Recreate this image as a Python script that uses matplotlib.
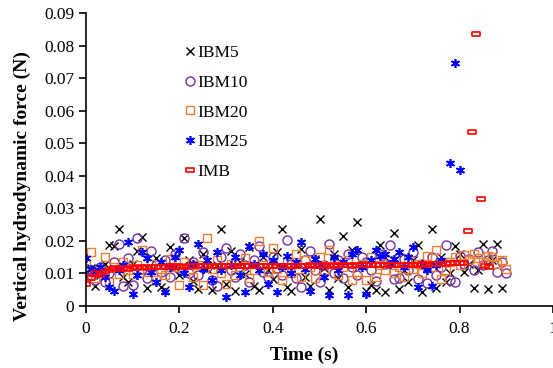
import matplotlib
matplotlib.use("Agg")
import matplotlib.pyplot as plt
from matplotlib.path import Path
import numpy as np

plt.rcParams['font.family'] = ['Liberation Serif', 'DejaVu Serif']

# time stamps (s)
t_ibm5 = [0.00, 0.01, 0.02, 0.03, 0.04, 0.05, 0.06, 0.07, 0.08, 0.09,
          0.10, 0.11, 0.12, 0.13, 0.14, 0.15, 0.16, 0.17, 0.18, 0.19,
          0.20, 0.21, 0.22, 0.23, 0.24, 0.25, 0.26, 0.27, 0.28, 0.29,
          0.30, 0.31, 0.32, 0.33, 0.34, 0.35, 0.36, 0.37, 0.38, 0.39,
          0.40, 0.41, 0.42, 0.43, 0.44, 0.45, 0.46, 0.47, 0.48, 0.49,
          0.50, 0.51, 0.52, 0.53, 0.54, 0.55, 0.56, 0.57, 0.58, 0.59,
          0.60, 0.61, 0.62, 0.63, 0.64, 0.65, 0.66, 0.67, 0.68, 0.69,
          0.70, 0.71, 0.72, 0.73, 0.74, 0.75, 0.76, 0.77, 0.78, 0.79,
          0.80, 0.81, 0.82, 0.83, 0.84, 0.85, 0.86, 0.87, 0.88, 0.89]
f_ibm5 = [0.0105, 0.0117, 0.0060, 0.0095, 0.0128, 0.0187, 0.0185, 0.0236, 0.0090, 0.0075,
          0.0130, 0.0169, 0.0213, 0.0055, 0.0110, 0.0147, 0.0059, 0.0049, 0.0182, 0.0120,
          0.0095, 0.0210, 0.0140, 0.0078, 0.0052, 0.0160, 0.0115, 0.0050, 0.0125, 0.0236,
          0.0068, 0.0170, 0.0045, 0.0135, 0.0098, 0.0180, 0.0060, 0.0048, 0.0150, 0.0112,
          0.0082, 0.0165, 0.0236, 0.0058, 0.0047, 0.0130, 0.0175, 0.0090, 0.0062, 0.0145,
          0.0267, 0.0118, 0.0049, 0.0160, 0.0085, 0.0216, 0.0058, 0.0172, 0.0257, 0.0128,
          0.0045, 0.0064, 0.0050, 0.0187, 0.0044, 0.0135, 0.0223, 0.0051, 0.0110, 0.0075,
          0.0140, 0.0187, 0.0044, 0.0120, 0.0238, 0.0054, 0.0150, 0.0075, 0.0100, 0.0184,
          0.0160, 0.0105, 0.0130, 0.0054, 0.0112, 0.0190, 0.0051, 0.0140, 0.0190, 0.0054]

t_ibm10 = t_ibm5 + [0.90]
f_ibm10 = [0.0110, 0.0095, 0.0080, 0.0120, 0.0075, 0.0100, 0.0135, 0.0190, 0.0062, 0.0148,
           0.0064, 0.0209, 0.0115, 0.0085, 0.0170, 0.0125, 0.0105, 0.0140, 0.0090, 0.0160,
           0.0118, 0.0208, 0.0100, 0.0135, 0.0095, 0.0165, 0.0120, 0.0080, 0.0062, 0.0150,
           0.0179, 0.0110, 0.0090, 0.0160, 0.0125, 0.0075, 0.0140, 0.0185, 0.0105, 0.0090,
           0.0150, 0.0118, 0.0095, 0.0203, 0.0130, 0.0085, 0.0059, 0.0140, 0.0170, 0.0110,
           0.0075, 0.0125, 0.0190, 0.0100, 0.0140, 0.0085, 0.0160, 0.0120, 0.0095, 0.0150,
           0.0135, 0.0110, 0.0078, 0.0160, 0.0128, 0.0187, 0.0082, 0.0085, 0.0145, 0.0110,
           0.0165, 0.0082, 0.0130, 0.0070, 0.0150, 0.0095, 0.0120, 0.0187, 0.0080, 0.0075,
           0.0155, 0.0130, 0.0145, 0.0110, 0.0167, 0.0125, 0.0140, 0.0170, 0.0105, 0.0135,
           0.0102]

t_ibm20 = t_ibm5 + [0.90]
f_ibm20 = [0.0130, 0.0167, 0.0085, 0.0110, 0.0150, 0.0075, 0.0120, 0.0098, 0.0135, 0.0110,
           0.0097, 0.0125, 0.0172, 0.0105, 0.0130, 0.0080, 0.0115, 0.0095, 0.0144, 0.0120,
           0.0064, 0.0135, 0.0110, 0.0090, 0.0125, 0.0064, 0.0208, 0.0115, 0.0140, 0.0100,
           0.0067, 0.0130, 0.0095, 0.0120, 0.0148, 0.0085, 0.0110, 0.0200, 0.0125, 0.0105,
           0.0179, 0.0115, 0.0080, 0.0135, 0.0100, 0.0160, 0.0090, 0.0140, 0.0120, 0.0085,
           0.0150, 0.0110, 0.0172, 0.0130, 0.0095, 0.0120, 0.0140, 0.0080, 0.0105, 0.0130,
           0.0080, 0.0150, 0.0090, 0.0125, 0.0110, 0.0140, 0.0100, 0.0120, 0.0090, 0.0145,
           0.0115, 0.0130, 0.0100, 0.0155, 0.0120, 0.0172, 0.0083, 0.0110, 0.0135, 0.0150,
           0.0125, 0.0157, 0.0140, 0.0160, 0.0148, 0.0135, 0.0155, 0.0151, 0.0130, 0.0141,
           0.0113]

t_ibm25 = t_ibm5[:77] + [0.78, 0.79, 0.80]
f_ibm25 = [0.0148, 0.0115, 0.0105, 0.0120, 0.0090, 0.0059, 0.0046, 0.0110, 0.0125, 0.0197,
           0.0036, 0.0095, 0.0165, 0.0146, 0.0105, 0.0075, 0.0136, 0.0042, 0.0120, 0.0150,
           0.0172, 0.0100, 0.0059, 0.0130, 0.0190, 0.0115, 0.0140, 0.0080, 0.0167, 0.0110,
           0.0029, 0.0125, 0.0150, 0.0095, 0.0042, 0.0185, 0.0130, 0.0110, 0.0160, 0.0068,
           0.0140, 0.0044, 0.0120, 0.0155, 0.0100, 0.0135, 0.0196, 0.0115, 0.0046, 0.0145,
           0.0125, 0.0090, 0.0034, 0.0150, 0.0110, 0.0135, 0.0034, 0.0160, 0.0172, 0.0120,
           0.0036, 0.0140, 0.0172, 0.0155, 0.0160, 0.0130, 0.0145, 0.0165, 0.0120, 0.0150,
           0.0182, 0.0059, 0.0130, 0.0110, 0.0062, 0.0125, 0.0141,
           0.0438, 0.0745, 0.0418]

t_imb = t_ibm5[:82] + [0.818, 0.827, 0.836, 0.846, 0.855, 0.864]
f_imb = [0.0068, 0.0085, 0.0100, 0.0095, 0.0105, 0.0112, 0.0117, 0.0113, 0.0118, 0.0115,
         0.0119, 0.0116, 0.0120, 0.0118, 0.0121, 0.0119, 0.0121, 0.0120, 0.0122, 0.0121,
         0.0122, 0.0121, 0.0122, 0.0122, 0.0123, 0.0122, 0.0122, 0.0123, 0.0122, 0.0123,
         0.0123, 0.0122, 0.0123, 0.0123, 0.0122, 0.0123, 0.0124, 0.0123, 0.0123, 0.0124,
         0.0123, 0.0124, 0.0123, 0.0124, 0.0124, 0.0123, 0.0124, 0.0124, 0.0125, 0.0124,
         0.0124, 0.0125, 0.0124, 0.0125, 0.0124, 0.0125, 0.0125, 0.0124, 0.0125, 0.0125,
         0.0125, 0.0126, 0.0125, 0.0126, 0.0126, 0.0125, 0.0126, 0.0126, 0.0127, 0.0126,
         0.0127, 0.0127, 0.0128, 0.0127, 0.0128, 0.0129, 0.0129, 0.0130, 0.0131, 0.0132,
         0.0133, 0.0133,
         0.0231, 0.0534, 0.0835, 0.0329, 0.0123, 0.0120]

# flat open rectangle marker like Excel's dash marker
rect = Path([(-1, -0.4), (1, -0.4), (1, 0.4), (-1, 0.4), (-1, -0.4)],
            [Path.MOVETO, Path.LINETO, Path.LINETO, Path.LINETO, Path.CLOSEPOLY])

fig = plt.figure(figsize=(5.53, 3.68), dpi=100)
ax = fig.add_axes([86 / 553, 1 - 306 / 368, 467 / 553, 293 / 368])

ax.plot(t_ibm5, f_ibm5, ls='none', marker='x', ms=6, mew=1.0, color='black', label='IBM5')
ax.plot(t_ibm10, f_ibm10, ls='none', marker='o', ms=6.5, mew=1.0, mfc='none',
        color='#7030A0', label='IBM10')
ax.plot(t_ibm20, f_ibm20, ls='none', marker='s', ms=5.5, mew=1.0, mfc='none',
        color='#ED7D31', label='IBM20')
ax.plot(t_ibm25, f_ibm25, ls='none', marker=(6, 2, 0), ms=6.5, mew=1.2,
        color='#0000FF', label='IBM25')
ax.plot(t_imb, f_imb, ls='none', marker=rect, ms=6, mew=1.2, mfc='none',
        color='#FF0000', label='IMB')

ax.set_xlim(0, 1)
ax.set_ylim(0, 0.09)
ax.set_xticks([0, 0.2, 0.4, 0.6, 0.8, 1.0])
ax.set_yticks([0, 0.01, 0.02, 0.03, 0.04, 0.05, 0.06, 0.07, 0.08, 0.09])
ax.xaxis.set_major_formatter(plt.FuncFormatter(lambda v, p: '{:g}'.format(round(v, 3))))
ax.yaxis.set_major_formatter(plt.FuncFormatter(lambda v, p: '{:g}'.format(round(v, 3))))
ax.tick_params(direction='out', length=5, width=1.2, labelsize=12.5, colors='black')
ax.tick_params(axis='x', pad=6)
for side in ['top', 'right']:
    ax.spines[side].set_visible(False)
for side in ['left', 'bottom']:
    ax.spines[side].set_linewidth(1.2)
ax.spines['bottom'].set_clip_on(False)

ax.set_xlabel('Time (s)', fontsize=14, fontweight='bold')
ax.xaxis.set_label_coords(0.467, -0.14)
ax.set_ylabel('Vertical hydrodynamic force (N)', fontsize=14, fontweight='bold')
ax.yaxis.set_label_coords(-0.118, 0.41)

ax.legend(loc='upper left', bbox_to_anchor=(186 / 553, 1 - 45 / 368),
          bbox_transform=fig.transFigure, frameon=False, fontsize=12.5,
          handlelength=0.5, handletextpad=0.15, labelspacing=0.78,
          borderpad=0, borderaxespad=0, numpoints=1)

fig.savefig('out.png', dpi=100)
